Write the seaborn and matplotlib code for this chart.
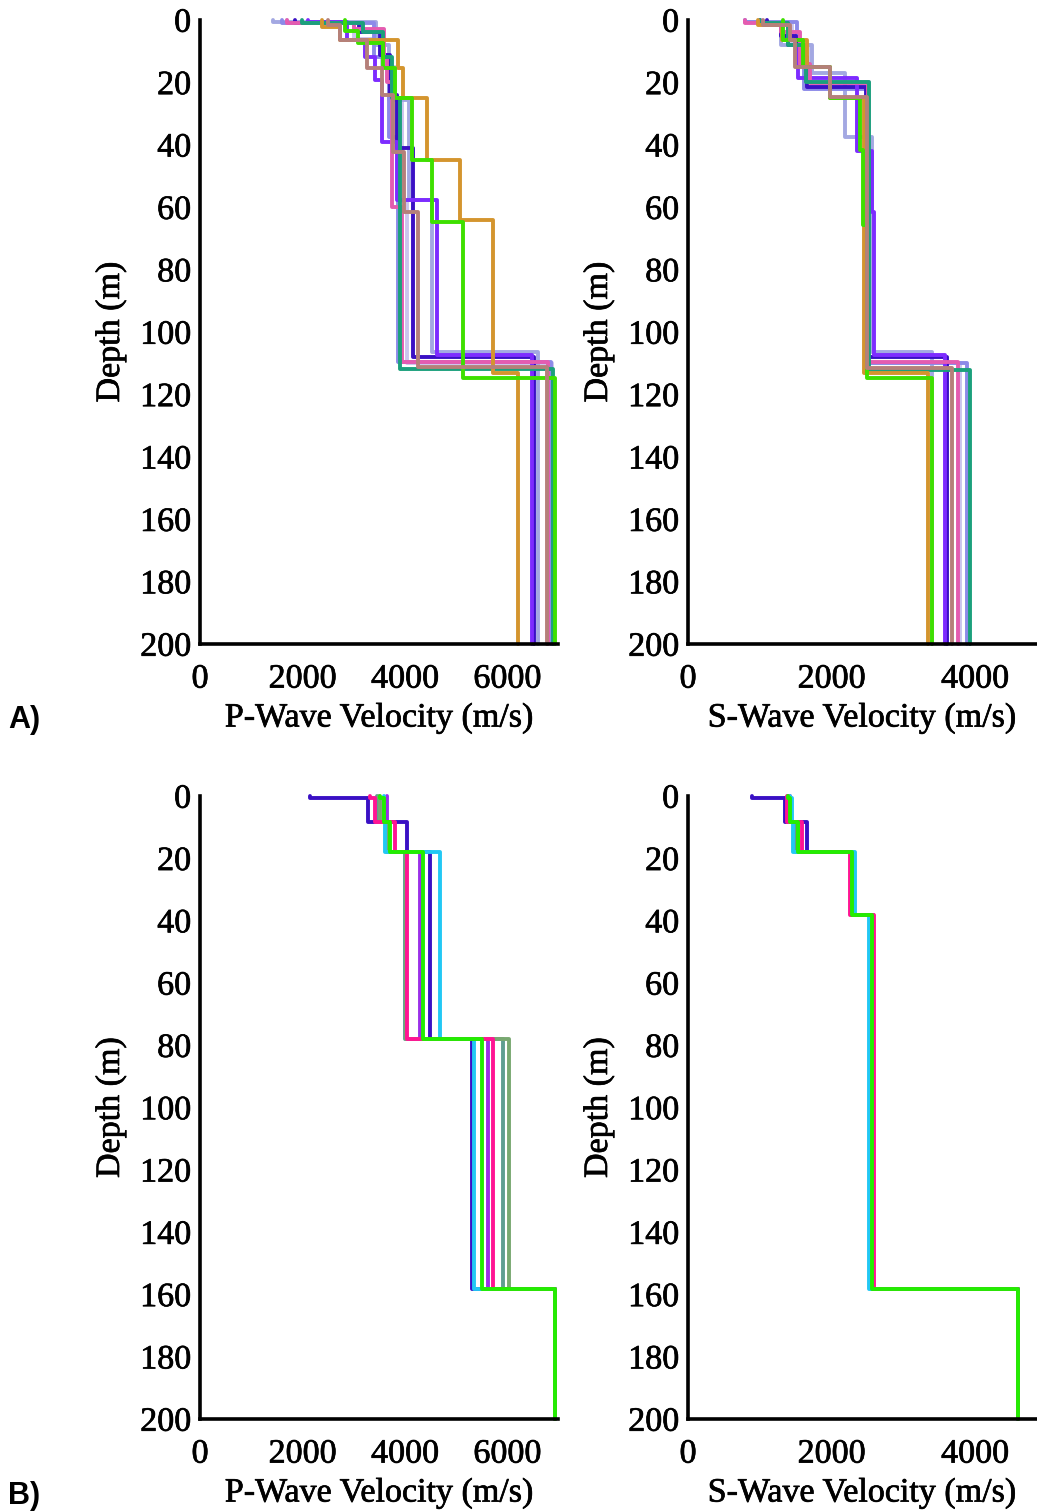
import numpy as np
import pandas as pd
import matplotlib
matplotlib.use("Agg")
import matplotlib.pyplot as plt
import matplotlib.patheffects as pe
import seaborn as sns

# ---------------- data: layer tops (m) and velocities (m/s) ----------------
MAX_DEPTH = 200

# Panel A, P-wave
a_p_lavender_tops = [0, 1, 6, 15, 25, 58, 110]
a_p_lavender_vel = [1700, 3000, 3550, 3800, 3950, 4036, 6880]
a_p_lightperi_tops = [0, 0.7, 8, 25.6, 57.7, 106.3]
a_p_lightperi_vel = [1426, 3440, 3690, 4090, 4525, 6608]
a_p_peri_tops = [0, 1, 12, 37.4, 109.5]
a_p_peri_vel = [1600, 3400, 3700, 3860, 6860]
a_p_indigo_tops = [0, 1, 4, 11.2, 24, 41, 108]
a_p_indigo_vel = [1855, 3100, 3515, 3711, 3841, 4167, 6520]
a_p_purple_tops = [0, 0.8, 6.5, 11.8, 19.2, 39, 57.7, 107.4]
a_p_purple_vel = [2100, 2865, 3223, 3418, 3548, 3841, 4622, 6478]
a_p_pink_tops = [0, 1, 3, 12, 20, 60, 109.6]
a_p_pink_vel = [1693, 3000, 3600, 3650, 3750, 3939, 6800]
a_p_teal_tops = [0, 1, 4, 12, 25, 111.7]
a_p_teal_vel = [2000, 3190, 3580, 3750, 3906, 6900]
a_p_orange_tops = [0, 2.1, 6.4, 15.5, 25.1, 44.9, 64.1, 113.2]
a_p_orange_vel = [2376, 2734, 3874, 3971, 4427, 5078, 5730, 6217]
a_p_green_tops = [0, 3.5, 7.5, 15.5, 25.1, 44.9, 64.6, 114.8]
a_p_green_vel = [2832, 3092, 3580, 3809, 4134, 4525, 5143, 6934]
a_p_rosy_tops = [0, 1.5, 6.4, 15.5, 24, 42.2, 61.5, 111.1]
a_p_rosy_vel = [2500, 2734, 3255, 3548, 3776, 3990, 4264, 6780]

# Panel A, S-wave
a_s_lavender_tops = [0, 1, 8, 20, 110]
a_s_lavender_vel = [1000, 1450, 1700, 2530, 3800]
a_s_lightperi_tops = [0, 0.7, 8, 17, 37.4, 106.3]
a_s_lightperi_vel = [800, 1300, 1725, 2190, 2560, 3399]
a_s_peri_tops = [0, 0.8, 8, 22, 109.8]
a_s_peri_vel = [800, 1516, 1620, 2500, 3887]
a_s_indigo_tops = [0, 1, 5, 12, 21.4, 107.9]
a_s_indigo_vel = [1100, 1300, 1500, 1655, 2480, 3608]
a_s_purple_tops = [0, 1, 8, 18.7, 42, 61.5, 107.4]
a_s_purple_vel = [1000, 1400, 1538, 2353, 2562, 2594, 3584]
a_s_pink_tops = [0, 1, 4, 14, 20.3, 109.5]
a_s_pink_vel = [795, 1300, 1562, 1700, 2510, 3770]
a_s_teal_tops = [0, 1, 8, 20, 112.2]
a_s_teal_vel = [1000, 1400, 1650, 2520, 3933]
a_s_orange_tops = [0, 1.6, 6.4, 15, 25, 113.2]
a_s_orange_vel = [981, 1306, 1655, 1980, 2460, 3352]
a_s_green_tops = [0, 6.4, 15, 25, 41.7, 65.8, 114.9]
a_s_green_vel = [1329, 1608, 1980, 2399, 2440, 2500, 3399]
a_s_rosy_tops = [0, 1.5, 6.4, 15, 24.6, 111.6]
a_s_rosy_vel = [1050, 1423, 1492, 1980, 2492, 3678]

# Panel B, P-wave
b_tops_p = [0, 0.7, 8.2, 17.9, 78.0, 158.3]
b_p_indigo_vel = [2148, 3288, 4036, 4492, 5306, 6934]
b_p_purple_vel = [3650, 3660, 3680, 4297, 5632, 6934]
b_p_teal_vel = [3450, 3460, 3650, 4010, 5924, 6934]
b_p_sage_vel = [3500, 3510, 3690, 4020, 6042, 6934]
b_p_cyan_vel = [3600, 3600, 3613, 4688, 5358, 6934]
b_p_pink_vel = [3330, 3420, 3808, 4036, 5729, 6934]
b_p_green_vel = [3520, 3600, 3711, 4362, 5514, 6934]

# Panel B, S-wave
b_tops_s = [0, 0.7, 8.2, 17.9, 38.2, 158.3]
b_s_indigo_vel = [888, 1353, 1655, 2283, 2585, 4602]
b_s_purple_vel = [1420, 1440, 1500, 2300, 2570, 4602]
b_s_teal_vel = [1390, 1400, 1520, 2290, 2575, 4602]
b_s_sage_vel = [1395, 1410, 1530, 2295, 2580, 4602]
b_s_cyan_vel = [1420, 1450, 1469, 2329, 2529, 4602]
b_s_pink_vel = [1376, 1376, 1585, 2259, 2594, 4602]
b_s_green_vel = [1400, 1420, 1538, 2283, 2562, 4602]

colors = {
    "lavender": "#cbc4ee", "lightperi": "#a3a8e2", "peri": "#8c8ae8",
    "indigo": "#3a10c4", "purple": "#7d2cff", "pink": "#e45cb0",
    "teal": "#1ba07c", "orange": "#d4952e", "green": "#3ee000",
    "rosy": "#b5807a",
    "b_indigo": "#3a10c4", "b_purple": "#9b30e8", "b_teal": "#5f9e90",
    "b_sage": "#78a870", "b_cyan": "#22c8f4", "b_pink": "#ff1493",
    "b_green": "#22ee00",
}

a_order = ["lavender", "lightperi", "peri", "indigo", "purple", "pink",
           "teal", "orange", "green", "rosy"]
b_order = ["b_indigo", "b_purple", "b_teal", "b_sage", "b_cyan", "b_pink", "b_green"]

g = globals()
panels = {
    "A_P": [(n, g[f"a_p_{n}_tops"], g[f"a_p_{n}_vel"]) for n in a_order],
    "A_S": [(n, g[f"a_s_{n}_tops"], g[f"a_s_{n}_vel"]) for n in a_order],
    "B_P": [(n, b_tops_p, g[f"b_p_{n[2:]}_vel"]) for n in b_order],
    "B_S": [(n, b_tops_s, g[f"b_s_{n[2:]}_vel"]) for n in b_order],
}


def step_points(tops, vels):
    bounds = list(tops) + [MAX_DEPTH]
    xs, ys = [], []
    for i, v in enumerate(vels):
        xs += [v, v]
        ys += [bounds[i], bounds[i + 1]]
    return xs, ys


rows = []
for pname, series in panels.items():
    for name, tops, vels in series:
        xs, ys = step_points(tops, vels)
        for k, (x, y) in enumerate(zip(xs, ys)):
            rows.append((pname, name, k, x, y))
df = pd.DataFrame(rows, columns=["panel", "series", "idx", "velocity", "depth"])

# ---------------- figure ----------------
sns.set_theme(style="white")
plt.rcParams["font.family"] = ["Liberation Serif", "DejaVu Serif"]
for key in ["text.color", "axes.labelcolor", "xtick.color", "ytick.color"]:
    plt.rcParams[key] = "black"

W, H = 1037, 1511
fig = plt.figure(figsize=(W / 100, H / 100), dpi=100)


def rect(x0, x1, y0, y1):
    return [x0 / W, 1 - y1 / H, (x1 - x0) / W, (y1 - y0) / H]


layout = {
    "A_P": (rect(200, 558.4, 20, 644), 7000, "P-Wave Velocity (m/s)"),
    "A_S": (rect(688, 1036, 20, 644), 4853, "S-Wave Velocity (m/s)"),
    "B_P": (rect(200, 558.4, 796, 1419), 7000, "P-Wave Velocity (m/s)"),
    "B_S": (rect(688, 1036, 796, 1419), 4853, "S-Wave Velocity (m/s)"),
}

thick = [pe.withStroke(linewidth=0.5, foreground="black")]
FS = 24.5

for pname, (r, xmax, xlabel) in layout.items():
    ax = fig.add_axes(r)
    sub = df[df["panel"] == pname]
    order = a_order if pname.startswith("A") else b_order
    sns.lineplot(data=sub, x="velocity", y="depth", hue="series",
                 hue_order=order, palette={k: colors[k] for k in order},
                 sort=False, estimator=None, units="series", linewidth=2.8,
                 legend=False, ax=ax, clip_on=False)
    ax.set_xlim(0, xmax)
    ax.set_ylim(MAX_DEPTH, 0)
    ax.set_yticks(np.arange(0, 201, 20))
    ax.set_xticks([0, 2000, 4000, 6000] if xmax > 6000 else [0, 2000, 4000])
    for s in ["top", "right"]:
        ax.spines[s].set_visible(False)
    for s in ["left", "bottom"]:
        ax.spines[s].set_color("black")
        ax.spines[s].set_linewidth(2.6)
    ax.tick_params(axis="both", direction="inout", length=9, width=2,
                   colors="black", labelsize=FS)
    ax.tick_params(axis="x", pad=10)
    ax.tick_params(axis="y", pad=2)
    ax.set_xlabel(xlabel, fontsize=FS, labelpad=6, path_effects=thick)
    ax.set_ylabel("Depth (m)", fontsize=FS, labelpad=10, path_effects=thick)
    for lab in ax.get_xticklabels() + ax.get_yticklabels():
        lab.set_path_effects(thick)
    ax.set_facecolor("white")

fig.text(8 / W, 1 - 720 / H, "A)", fontsize=22, fontweight="bold",
         family="Liberation Sans", va="center", ha="left", color="black")
fig.text(8 / W, 1 - 1496 / H, "B)", fontsize=22, fontweight="bold",
         family="Liberation Sans", va="center", ha="left", color="black")

fig.savefig("out.png", dpi=100, facecolor="white")
